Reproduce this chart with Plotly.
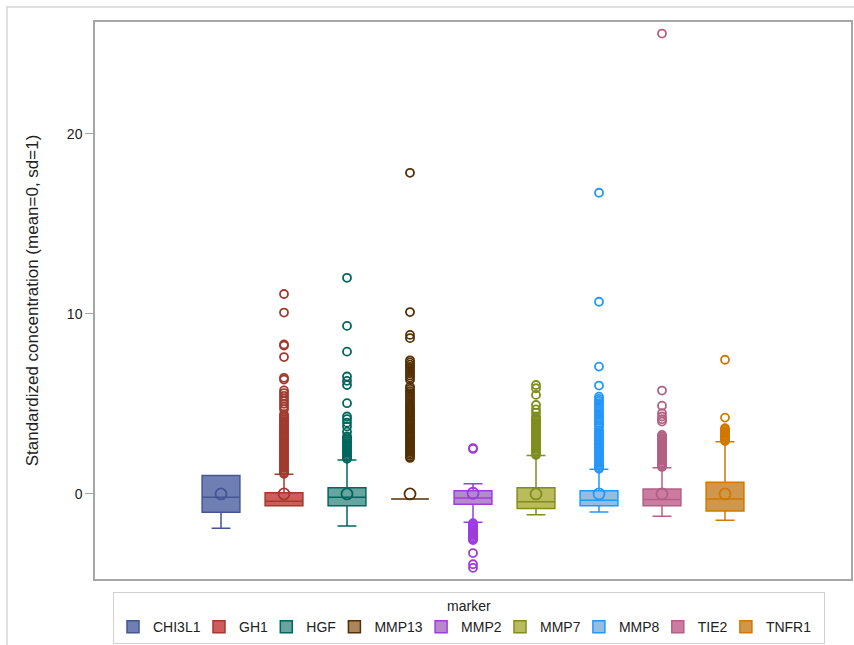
import plotly.graph_objects as go

markers = ["CHI3L1", "GH1", "HGF", "MMP13", "MMP2", "MMP7", "MMP8", "TIE2", "TNFR1"]
positions = [0, 1, 2, 3, 4, 5, 6, 7, 8]

q1 = [-1.02, -0.65, -0.65, -0.28, -0.57, -0.80, -0.65, -0.65, -0.94]
median = [-0.18, -0.41, -0.18, -0.28, -0.22, -0.43, -0.35, -0.30, -0.28]
q3 = [1.02, 0.07, 0.35, -0.28, 0.18, 0.35, 0.18, 0.28, 0.65]
lower_whisker = [-1.90, -0.65, -1.78, -0.28, -1.57, -1.15, -1.00, -1.24, -1.46]
upper_whisker = [1.02, 1.09, 1.89, -0.28, 0.57, 2.13, 1.37, 1.46, 2.90]
means = [0.0, 0.0, 0.0, 0.0, 0.04, 0.0, 0.0, 0.0, 0.0]

outliers = {
    "CHI3L1": [],
    "GH1": [11.1, 10.07, 8.3, 8.24, 7.6, 6.45, 6.35, 5.75, 5.6, 5.45, 5.3, 5.15, 5.0, 4.85,
            4.7, 4.42, 4.33, 4.24, 4.15, 4.06, 3.97, 3.88, 3.79, 3.7, 3.61, 3.52, 3.43, 3.34,
            3.25, 3.16, 3.07, 2.98, 2.89, 2.8, 2.71, 2.62, 2.53, 2.44, 2.35, 2.26, 2.17, 2.08,
            1.99, 1.9, 1.81, 1.72, 1.63, 1.54, 1.45, 1.36, 1.27, 1.18, 1.12],
    "HGF": [12.0, 9.33, 7.9, 6.52, 6.28, 6.05, 5.04, 4.3, 4.15, 3.96, 3.75, 3.46, 3.2, 3.11,
            3.02, 2.93, 2.84, 2.75, 2.66, 2.57, 2.48, 2.39, 2.3, 2.21, 2.12, 2.03, 1.95],
    "MMP13": [17.83, 10.1, 8.83, 8.65, 7.42, 7.3, 7.18, 7.06, 6.94, 6.82, 6.7, 6.58, 6.46,
              6.34, 5.95, 5.83, 5.71, 5.59, 5.47, 5.35, 5.23, 5.11, 4.99, 4.87, 4.78, 4.69,
              4.6, 4.51, 4.42, 4.33, 4.24, 4.15, 4.06, 3.97, 3.88, 3.79, 3.7, 3.61, 3.52,
              3.43, 3.34, 3.25, 3.16, 3.07, 2.98, 2.89, 2.8, 2.71, 2.62, 2.53, 2.44, 2.35,
              2.26, 2.17, 2.08, 2.0],
    "MMP2": [2.55, 2.5, -1.62, -1.7, -1.78, -1.86, -1.94, -2.02, -2.1, -2.18, -2.26, -2.34,
             -2.42, -2.5, -2.56, -3.28, -3.9, -4.1],
    "MMP7": [6.05, 5.87, 5.5, 4.94, 4.7, 4.52, 4.3, 4.21, 4.12, 4.03, 3.94, 3.85, 3.76, 3.67,
             3.58, 3.49, 3.4, 3.31, 3.22, 3.13, 3.04, 2.95, 2.86, 2.77, 2.68, 2.59, 2.5, 2.41,
             2.32, 2.23, 2.16],
    "MMP8": [16.72, 10.67, 7.07, 6.02, 5.4, 5.28, 5.16, 5.04, 4.92, 4.8, 4.68, 4.56, 4.44,
             4.32, 4.2, 4.08, 3.96, 3.84, 3.73, 3.54, 3.45, 3.36, 3.27, 3.18, 3.09, 3.0, 2.91,
             2.82, 2.73, 2.64, 2.55, 2.46, 2.37, 2.28, 2.19, 2.1, 2.01, 1.92, 1.83, 1.74,
             1.65, 1.56, 1.47, 1.4],
    "TIE2": [25.56, 5.74, 4.9, 4.48, 4.3, 4.15, 4.02, 3.28, 3.19, 3.1, 3.01, 2.92, 2.83, 2.74,
             2.65, 2.56, 2.47, 2.38, 2.29, 2.2, 2.11, 2.02, 1.93, 1.84, 1.75, 1.66, 1.57, 1.5],
    "TNFR1": [7.45, 4.24, 3.65, 3.57, 3.49, 3.41, 3.33, 3.25, 3.17, 3.09, 3.01, 2.94],
}

fill_colors = ["#6F7EB3", "#D05B5B", "#66A5A0", "#A9865B", "#B689CD", "#BABC5C", "#94BDE1", "#CD7BA1", "#CF974B"]
line_colors = ["#445694", "#A23A2E", "#01665E", "#543005", "#9D3CDB", "#7F8E1F", "#2597FA", "#B26084", "#D17800"]
legend_widths = [41, 22.3, 23.1, 41.7, 33.9, 33.9, 33.9, 23.1, 53]

y_ticks = [0, 10, 20]

font_family = "Liberation Sans, Arial, sans-serif"

fig = go.Figure()

for i, m in enumerate(markers):
    fig.add_trace(go.Box(
        name=m,
        x=[positions[i]],
        q1=[q1[i]], median=[median[i]], q3=[q3[i]],
        lowerfence=[lower_whisker[i]], upperfence=[upper_whisker[i]],
        width=0.6,
        whiskerwidth=0.5,
        fillcolor=fill_colors[i],
        line=dict(color=line_colors[i], width=1.5),
        boxpoints=False,
        hoverinfo="skip",
        showlegend=True,
        legendgroup=m,
        legendwidth=legend_widths[i],
    ))

for i, m in enumerate(markers):
    ys = outliers[m]
    if ys:
        fig.add_trace(go.Scatter(
            x=[positions[i]] * len(ys), y=ys, mode="markers",
            marker=dict(symbol="circle-open", size=8, color=line_colors[i],
                        line=dict(width=1.8, color=line_colors[i])),
            showlegend=False, legendgroup=m, hoverinfo="skip",
        ))
    fig.add_trace(go.Scatter(
        x=[positions[i]], y=[means[i]], mode="markers",
        marker=dict(symbol="circle-open", size=11, color=line_colors[i],
                    line=dict(width=1.8, color=line_colors[i])),
        showlegend=False, legendgroup=m, hoverinfo="skip",
    ))

fig.update_layout(
    width=854, height=645,
    margin=dict(l=95, r=3, t=22, b=66, autoexpand=False),
    paper_bgcolor="white", plot_bgcolor="white",
    font=dict(family=font_family, size=14, color="#222222"),
    boxmode="overlay",
    showlegend=True,
    legend=dict(
        orientation="h", x=(469 - 95) / 756, xanchor="center", y=-(592 - 579) / 557, yanchor="top",
        title=dict(text="marker", side="top center", font=dict(size=14)),
        font=dict(size=14),
        bordercolor="#D0D0D0", borderwidth=1, bgcolor="white",
    ),
    xaxis=dict(range=[-2, 10], showticklabels=False, ticks="", showgrid=False,
               zeroline=False, showline=True, linecolor="#A6A6A6", linewidth=1.5, mirror=True),
    yaxis=dict(range=[-4.72, 26.2], tickvals=y_ticks, ticktext=[str(t) for t in y_ticks],
               ticks="outside", ticklen=8, tickcolor="#A6A6A6", showgrid=False, zeroline=False,
               showline=True, linecolor="#A6A6A6", linewidth=1.5, mirror=True,
               title=dict(text="Standardized concentration (mean=0, sd=1)", standoff=24)),
    shapes=[dict(type="rect", xref="paper", yref="paper",
                 x0=(7 - 95) / 756, x1=1.05, y0=-0.3, y1=1 + (22 - 7) / 557,
                 line=dict(color="#D6D6D6", width=1.5), fillcolor="rgba(0,0,0,0)", layer="below")],
)

fig.write_html("out.html")
